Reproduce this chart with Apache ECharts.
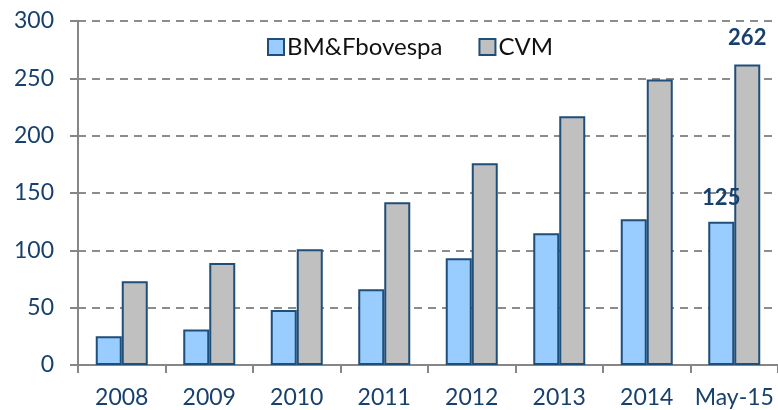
<!DOCTYPE html>
<html>
<head>
<meta charset="utf-8">
<script src="https://cdn.jsdelivr.net/npm/echarts@6/dist/echarts.min.js"></script>
<style>
  html, body { margin: 0; padding: 0; background: #fff; }
  #chart { width: 778px; height: 410px; }
</style>
</head>
<body>
<div id="chart"></div>
<script>
// categorias e valores
var categories = ['2008', '2009', '2010', '2011', '2012', '2013', '2014', 'May-15'];
var bmfValues = [25, 31, 48, 66, 93, 115, 127, 125];
var cvmValues = [73, 89, 101, 142, 176, 217, 249, 262];
var yTicks = [0, 50, 100, 150, 200, 250, 300];

var labelColor = '#17406D';
var borderColor = '#1F4E79';

var charts = echarts.init(document.getElementById('chart'));

// só o último ponto leva rótulo
function lastLabel(values) {
    return values.map(function (v, i) {
        if (i === values.length - 1) {
            return { value: v, label: { show: true } };
        }
        return v;
    });
}

var option = {
    animation: false,
    textStyle: { fontFamily: 'Lato' },
    legend: {
        left: 262,
        top: 30,
        itemWidth: 16,
        itemHeight: 16,
        itemGap: 36,
        icon: 'rect',
        textStyle: { fontSize: 24, color: '#111', fontFamily: 'Lato', padding: [0, 0, 0, -2] },
        data: ['BM&Fbovespa', 'CVM']
    },
    grid: {
        left: 78,
        right: 0,
        top: 21,
        bottom: 45,
        containLabel: false
    },
    xAxis: [
        {
            type: 'category',
            data: categories,
            axisLine: { lineStyle: { color: '#868686', width: 2 } },
            axisTick: { show: true, length: 8, lineStyle: { color: '#868686', width: 2 } },
            axisLabel: { interval: 0, fontSize: 23, color: labelColor, margin: 21, fontFamily: 'Lato' }
        }
    ],
    yAxis: [
        {
            type: 'value',
            min: 0,
            max: 300,
            interval: 50,
            axisLine: { show: true, lineStyle: { color: '#868686', width: 2 } },
            axisTick: { show: true, length: 8, lineStyle: { color: '#868686', width: 2 } },
            axisLabel: {
                fontSize: 23, color: labelColor, margin: 24, fontFamily: 'Lato',
                formatter: function (v) { return yTicks.indexOf(v) >= 0 ? String(v) : ''; }
            },
            splitLine: { lineStyle: { color: '#8c8c8c', type: [8, 6], width: 2 } }
        }
    ],
    series: [
        {
            name: 'BM&Fbovespa',
            type: 'bar',
            barWidth: 26,
            barGap: '0%',
            itemStyle: { color: '#99CCFF', borderColor: borderColor, borderWidth: 2 },
            label: { position: 'top', distance: 13, color: labelColor, fontSize: 22, fontWeight: 'bold', fontFamily: 'Lato' },
            data: lastLabel(bmfValues)
        },
        {
            name: 'CVM',
            type: 'bar',
            barWidth: 26,
            itemStyle: { color: '#C0C0C0', borderColor: borderColor, borderWidth: 2 },
            label: { position: 'top', distance: 16, color: labelColor, fontSize: 22, fontWeight: 'bold', fontFamily: 'Lato' },
            data: lastLabel(cvmValues)
        }
    ]
};

//渲染图表
if (option && typeof option === "object") {
    charts.setOption(option, true);
}
</script>
</body>
</html>
